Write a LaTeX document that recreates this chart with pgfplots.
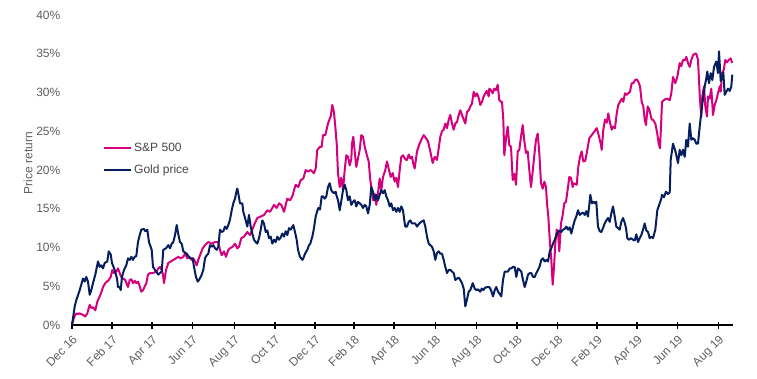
\documentclass[border=0pt]{standalone}
\usepackage{pgfplots}
\pgfplotsset{compat=1.18}
\usepackage{pgfplotstable}
\usepackage{fontspec}
\setmainfont{Liberation Sans}
\definecolor{sppink}{RGB}{214,0,126}
\definecolor{goldnavy}{RGB}{4,30,94}
\definecolor{labelgray}{RGB}{95,95,95}
\definecolor{leggray}{RGB}{70,70,70}

\pgfplotstableread{
x y
0 0
2 1.0
4.3 1.5
6 1.4
7.7 1.5
9.3 1.4
11 1.3
13.3 1.1
15.3 1.5
17.7 2.6
19.3 2.2
21 2.3
23.3 1.9
25.3 3.0
27.7 3.7
29.3 4.2
31 4.9
33.3 5.4
35 5.6
36.7 5.8
38.7 6.2
40.3 7.1
42 6.7
44.3 6.9
46 7.3
47.7 6.7
49.3 6.2
51 6.0
53.3 5.8
56 4.9
57.7 5.8
59.3 5.9
61 5.4
62.7 5.7
64.3 5.4
66 5.6
67.7 5.0
69.3 4.3
71 4.5
74.3 5.4
76 6.5
78 6.7
81 6.7
82.7 6.8
84.7 6.9
86.3 7.3
88 7.5
89.7 7.1
91 6.5
92 5.4
94 7.1
96.3 8.0
98.7 8.2
101.3 8.4
104 8.6
106.3 8.8
108.7 8.6
111.3 8.8
113 9.2
115.3 8.6
117.3 8.8
119.7 8.4
121.3 8.6
123 8.2
124.7 7.7
126.3 8.4
128 9.0
130.7 9.9
133 10.3
136.3 10.7
139.7 10.5
143 10.7
146.3 10.7
148 9.7
149.7 9.0
152 9.5
154 8.8
156.3 9.7
158 9.9
160.7 10.1
163 10.5
165.3 9.9
167 10.1
169.3 11.2
172 11.4
175.3 12.0
178 11.6
180.3 12.3
182.7 13.1
185.3 13.8
188.7 14.0
192 14.2
195.3 14.8
198 14.6
200.3 15.1
202 15.5
204.7 15.1
207 15.7
209.3 15.5
212 14.6
213.7 15.5
215.3 16.3
218 16.1
220.3 16.6
222 17.4
223.7 18.1
226.3 17.8
228.7 18.7
231.3 18.9
233.7 20.0
236 19.8
238.7 20.0
242 19.6
243.7 20.2
245.3 22.6
246.7 22.8
248 23.0
249.7 23.0
251 24.5
253.3 24.5
256 26.0
258 26.7
258.7 26.9
260.3 28.4
262 27.4
263.3 25.6
264.7 23.4
266 19.6
267.7 17.8
269.3 19.0
271 17.4
272.7 20.0
274.3 21.9
276 21.7
277.7 20.6
279.3 21.4
280 23.4
281.3 24.3
283 22.0
284.3 20.4
286 21.5
287.7 22.6
289.3 24.5
291 24.3
292.7 23.0
294.7 22.0
296.7 21.1
298.3 18.7
299.3 17.8
301 16.1
302.7 16.9
304.3 15.5
306 17.0
307.7 18.9
309.3 17.4
311 19.1
313.3 20.0
315 21.1
317 20.0
318.7 19.1
320.7 19.6
322.7 18.5
324.3 19.0
326 17.8
327.7 20.0
329.3 21.7
331 21.9
332.7 21.5
334.3 21.3
335 21.3
336.7 22.0
338.3 21.5
340 21.7
341.3 20.8
342.7 20.2
345 22.4
347.3 23.3
349.3 23.9
351.7 24.5
354 24.1
356 23.7
358.3 22.4
360.7 20.9
362.7 21.7
365 21.3
366.7 22.8
368.3 24.3
370 25.0
371.7 25.2
373.3 26.0
375 25.4
376.7 26.5
378.3 27.1
380 26.0
381.7 25.2
383.3 26.0
385 26.2
386.7 27.1
388.3 27.7
390 27.1
391.7 26.5
393.3 26.0
395 27.5
396.7 27.7
398.3 28.2
400 28.6
401.7 30.1
403.3 29.5
405 29.9
406.7 29.3
408.3 28.4
410 28.8
411.7 29.5
413.3 29.9
414.7 30.2
416.7 29.5
417.3 30.5
419 30.3
420.7 29.9
422.3 30.5
424 30.3
425.7 31.0
427.3 29.0
429 28.8
430 28.8
431.3 26.5
432.3 21.9
434 24.1
435.7 25.6
437.3 23.2
439 23.0
440.7 18.7
442.3 19.5
444 18.1
445.7 22.4
447.3 22.6
449 24.3
450.7 25.8
452.3 23.8
454 22.2
455.7 22.4
457.3 20.0
459 17.8
460.7 19.8
462.3 21.9
464 23.9
465.7 24.7
467.3 22.2
469 18.3
470.7 17.6
472.3 18.5
474 17.8
475 15.7
476.3 14.0
478 10.5
479.3 8.4
480.7 5.2
482 7.5
483.3 10.5
484.7 12.3
486 12.0
487.3 9.5
489 13.1
490.7 14.2
492.3 15.7
494 15.9
495.7 17.5
497.3 19.1
499 19.0
500.7 17.8
501.3 18.3
503 18.2
504.7 18.1
506.3 20.4
508 21.7
509.7 22.4
511.3 21.1
513.3 21.2
515.3 22.6
517.3 24.1
519.7 24.5
522 24.9
524.7 25.4
526.3 24.7
528.7 23.4
529.7 22.6
531.3 25.2
533 26.5
534.7 26.1
536.3 27.3
538 26.1
539.7 25.2
541.3 25.6
543 25.4
544.7 27.3
546.3 28.4
548 28.8
549.7 29.2
551.3 28.8
553 29.9
554.7 29.7
556.3 29.9
558 30.1
559.7 31.2
561.3 31.2
563 31.6
564.7 31.7
566.3 31.4
568 30.8
569.7 28.8
571.3 28.2
572.7 26.5
574 25.8
575.7 28.2
577.3 27.8
579.7 26.5
581 26.5
583.3 26.0
585 24.9
586.7 23.4
588 22.8
589.3 26.5
590 28.8
592.7 29.1
595.3 29.2
597.7 29.0
599.3 29.9
601 32.0
603.3 31.2
605.3 32.0
607.7 33.8
609.3 33.4
611 34.2
613.3 34.2
614.3 34.6
616 33.8
617.7 33.3
619.3 34.2
621 34.8
622.7 35.0
624.3 35.0
626 34.2
627 31.6
628 29.0
629.3 26.9
630.3 29.5
632 30.8
633.3 28.2
635 26.9
636 29.5
637.7 29.2
639.3 30.5
641 27.1
642.7 28.4
644.3 29.0
646 29.9
647.7 30.8
648.7 30.1
650 32.5
651.7 32.9
653.3 34.2
655 33.9
656.7 34.2
658.7 34.4
660 33.8
}\spdata

\pgfplotstableread{
x y
0 0
2.7 2.4
4.3 3.2
7.7 4.5
11 6.0
12.7 5.6
14.3 6.2
16 5.6
17.7 3.9
19.3 4.5
21 5.4
23.3 6.5
26 8.2
27.7 7.5
29.3 7.7
31 7.3
32.7 8.0
35.3 8.2
36.7 9.5
38.7 9.1
40 8.0
42.7 7.1
45 6.0
46 4.9
47.7 4.9
48.7 4.5
50 6.2
52 7.1
54.3 7.7
56 8.6
57.7 8.4
59.3 8.8
61 8.4
62.7 8.8
64.3 8.9
66 10.7
67.7 11.6
69.3 12.3
72 12.4
73.3 12.1
75.3 12.3
77 10.7
79.7 9.7
81 7.5
83 7.1
86.3 6.5
88 6.7
89.7 6.9
91.3 9.7
94 9.9
96.3 10.3
98 9.9
99.7 10.5
101.3 10.7
103 11.6
104.7 12.9
106.3 11.7
108 10.7
109.7 10.5
111.3 9.5
114.7 9.2
118 8.6
120.7 8.6
122 7.5
124 6.2
125.7 5.6
127 5.8
129.7 6.5
131.3 7.1
133 8.6
134.7 9.0
136.3 9.2
138 10.3
139.7 10.1
141.3 10.3
143 9.9
144.7 9.7
146.3 10.1
148 12.3
149.7 12.0
151.3 12.1
153 12.7
154.7 12.4
156.3 12.9
158 13.6
159.7 14.8
161.3 15.7
163 16.3
164.7 17.4
165.3 17.6
166 17.2
168 15.7
170.3 15.7
171.3 14.6
173.7 13.5
175.3 12.7
177 14.2
178.7 12.7
180.3 11.8
182 11.0
183.7 10.7
185.3 10.5
187 11.2
188.7 12.3
190.3 13.5
192 13.1
193.7 12.0
195.3 12.2
197 11.2
198.7 11.4
200.3 10.5
202 11.0
203.7 10.7
205.3 11.4
207 11.0
208.7 11.3
210.3 11.8
212 11.4
213.7 12.1
215.3 11.6
217 12.5
218.7 12.3
221.3 12.9
223 12.0
224.7 11.0
226 9.7
228 8.8
230.3 8.4
231.3 8.6
233 9.2
235.3 9.7
237 10.3
238.3 10.5
240.3 11.4
241.7 12.3
243.7 14.0
245 14.6
246.3 15.1
248 14.9
249.7 16.6
251 16.6
252.7 16.3
254.3 16.6
256 17.8
257.7 18.3
259.3 17.4
260.3 17.2
262 17.0
263.7 17.2
264.3 16.8
266 16.1
267.7 14.8
269.3 16.0
271 17.4
272.7 18.1
274.3 17.4
276 16.1
277.7 16.6
279.3 15.5
281 15.9
282.7 16.1
284.3 15.3
286 15.9
287.7 15.7
289.3 15.5
291 15.1
292.7 15.5
294.3 15.3
296 14.4
297.7 15.5
299.3 17.8
301 17.2
302.7 16.1
304.3 16.8
306 16.1
307.7 16.8
309.3 17.4
311 17.0
312.7 17.4
314.3 16.6
316 16.1
317.7 15.3
319.3 15.7
321 14.8
322.7 15.1
324.3 14.6
326 15.1
327.7 14.6
329.3 15.3
331 14.8
332.3 13.5
333.3 12.7
335 12.7
336.7 13.3
338.3 13.5
340 13.1
341.7 13.1
343.3 13.1
345 12.7
347.3 13.1
349 13.3
351.7 13.5
353.3 12.7
355 11.4
356.7 10.5
358.3 10.3
360 10.1
361.7 9.5
363.3 8.4
365 9.3
366.7 9.5
368.3 9.2
370 9.2
371.7 8.4
373.3 7.5
375 6.7
376.7 7.1
378.3 7.1
380 6.9
381.7 6.7
383.3 5.8
385 6.0
386.7 6.1
388.3 5.8
390 5.4
391.7 4.7
393.3 2.4
395 3.3
396.7 4.3
398.3 4.5
400.7 5.4
402.7 4.7
404.3 4.5
406 4.6
408.3 4.3
409.7 4.7
411.3 4.5
413 4.8
415.3 4.9
417.3 4.9
419 4.5
421 3.7
422.7 4.5
424.3 4.9
426 4.3
427.7 4.0
429.3 3.7
431 5.8
432.7 6.9
434.3 6.9
436 6.9
437.7 7.3
439.3 7.3
441 7.5
442.7 7.5
444.3 6.2
446 7.3
447.7 7.1
449.3 6.9
451 5.8
452.7 4.9
454.3 5.6
456 6.5
457.7 6.7
459.3 6.7
461 6.2
462.7 6.2
464.3 6.7
466 7.1
467.7 7.6
469.3 8.4
471 8.6
472.7 8.2
474.3 8.4
476 8.2
477.7 9.5
479.3 9.9
481 10.5
482.7 11.0
484.3 11.6
486 12.0
487.7 12.2
489.3 12.0
491 12.3
492.7 12.4
494.3 12.7
496 12.3
497.7 12.6
499.3 11.8
501 12.7
502.7 13.5
504.3 14.0
506 14.8
507.7 14.2
509.3 14.4
511 14.5
512.7 14.2
514.3 14.7
516 14.0
517.3 15.5
518.3 16.8
520 15.7
521.7 15.9
523 15.7
524.3 15.9
526 12.7
527.7 12.1
529.3 12.0
531 12.5
532.7 13.1
534.3 13.5
536 13.8
537.7 13.3
539.3 14.4
541 15.3
542.7 14.0
544.3 12.7
546 12.5
547.7 12.3
549.3 13.3
551 13.8
552.7 13.2
554 12.5
555.3 11.2
557 11.0
559 11.2
561 11.0
562.7 10.9
564.3 11.7
566 10.7
567.7 11.2
569.3 11.6
571 12.3
572.7 13.1
574.3 12.2
576 12.0
577.7 11.2
579.3 11.4
581 11.2
583.3 12.3
585.3 14.8
587.7 15.7
589.3 16.3
590 16.8
592 16.5
594 17.2
596 16.9
597.7 17.1
598.7 21.3
601 23.4
603 22.6
604.7 21.7
606 20.9
607.7 22.6
609.3 21.9
611 22.6
612.7 21.7
614.3 23.9
616 23.0
617.7 26.0
619.3 23.9
621 24.1
622.7 23.9
624.3 23.4
626 23.4
627.7 25.6
630 28.2
631.3 29.5
632.7 30.8
634 31.6
635.3 32.7
637 31.2
638.7 32.5
640.3 31.6
642 33.3
644.3 34.0
646 32.5
647 35.3
648.7 31.5
650 31.8
651.3 32.6
652.7 29.7
654.3 30.1
656 30.5
657.7 30.2
659.3 30.8
660.3 32.3
}\golddata

\begin{document}
\begin{tikzpicture}[x=1pt,y=1pt]
\useasboundingbox (0,0) rectangle (757,378);
\begin{axis}[
  at={(72pt,53pt)}, anchor=south west,
  scale only axis, width=660.5pt, height=310pt,
  xmin=0, xmax=660.5, ymin=0, ymax=40,
  clip=false,
  axis lines*=left,
  x axis line style={black, line width=1.8pt},
  y axis line style={draw=none},
  xtick={0,40,80,120.3,162.3,202.7,243,281.7,322,363.3,404.3,444.7,485.3,524.7,565,605.3,646.3},
  xticklabels={Dec 16,Feb 17,Apr 17,Jun 17,Aug 17,Oct 17,Dec 17,Feb 18,Apr 18,Jun 18,Aug 18,Oct 18,Dec 18,Feb 19,Apr 19,Jun 19,Aug 19},
  ytick={0,5,10,15,20,25,30,35,40},
  yticklabels={0\%,5\%,10\%,15\%,20\%,25\%,30\%,35\%,40\%},
  xtick style={black, line width=1.6pt},
  ytick style={draw=none},
  tick align=center,
  major tick length=7pt,
  xticklabel style={font=\fontsize{12}{14}\selectfont, color=labelgray, rotate=45, anchor=north east, inner sep=1pt, yshift=-3pt, xshift=-3pt},
  yticklabel style={font=\fontsize{12}{14}\selectfont, color=labelgray, anchor=east, inner sep=0pt, xshift=-8pt},
  ylabel={Price return},
  ylabel style={font=\fontsize{12}{14}\selectfont, color=labelgray, at={(axis description cs:0,0.5)}, anchor=center, yshift=44pt, xshift=7pt},
  legend style={at={(axis description cs:0.047,0.595)}, anchor=north west, draw=none, fill=none, font=\fontsize{12}{14}\selectfont, text=leggray, row sep=8pt, inner sep=0pt, legend cell align=left},
  legend image code/.code={\draw[#1, line width=2pt] (0pt,0pt) -- (27pt,0pt);},
]
\addplot[sppink, line width=2pt, line join=round] table[x=x,y=y] {\spdata};
\addlegendentry{S\&P 500}
\addplot[goldnavy, line width=2pt, line join=round] table[x=x,y=y] {\golddata};
\addlegendentry{Gold price}
\end{axis}
\end{tikzpicture}
\end{document}
